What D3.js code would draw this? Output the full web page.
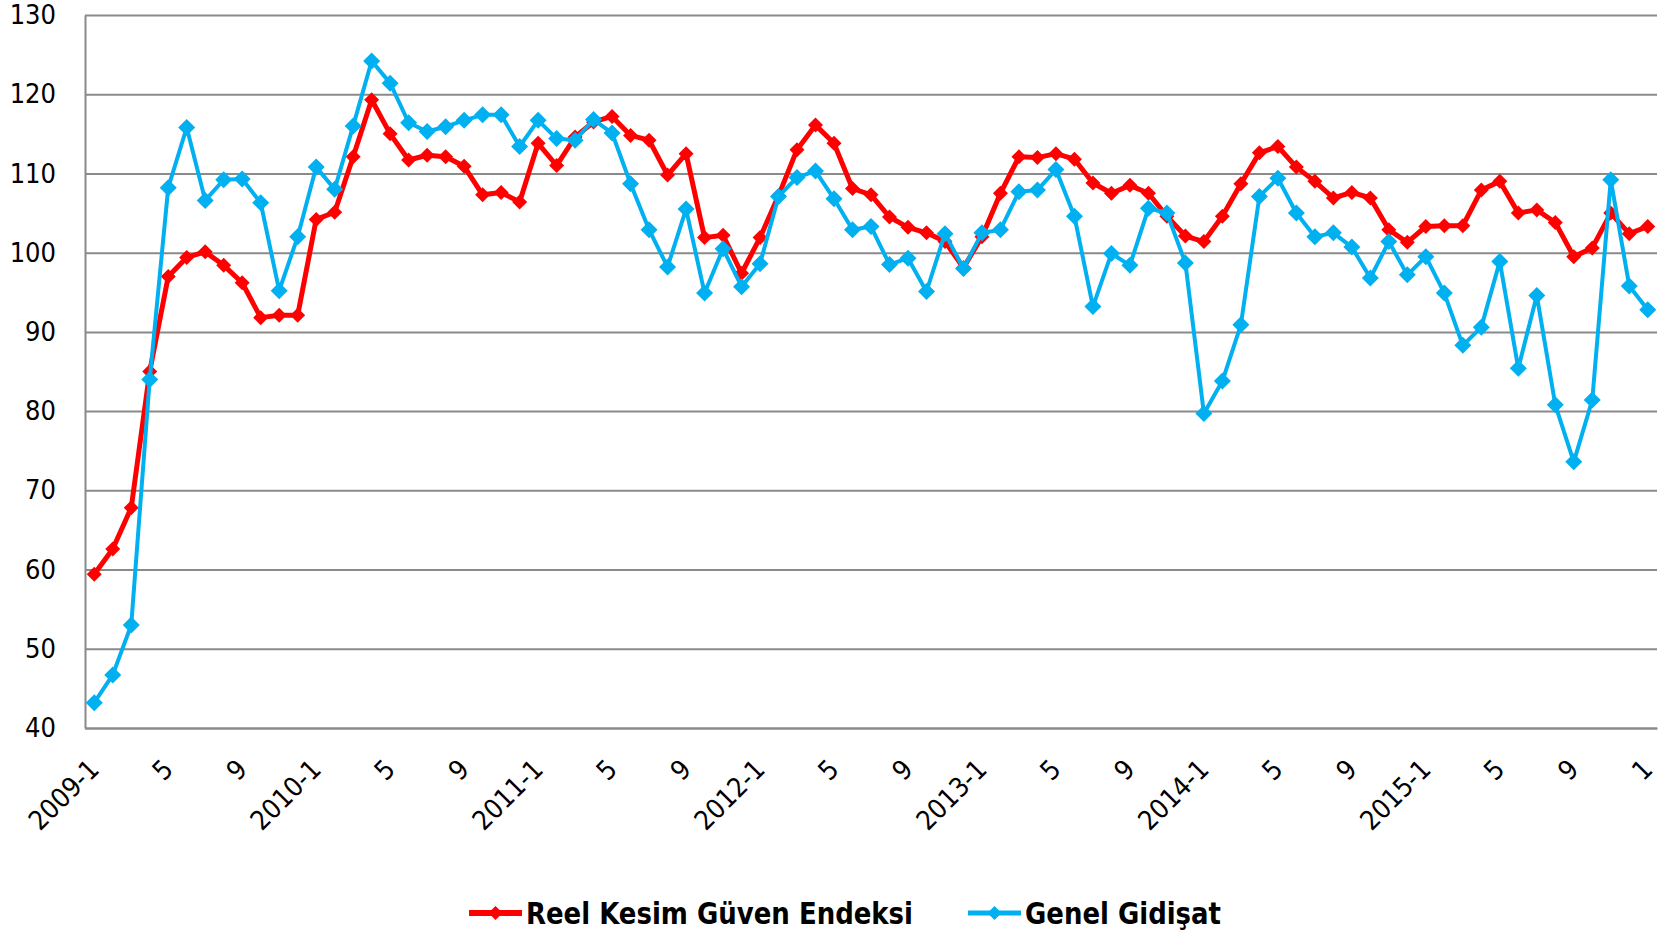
<!DOCTYPE html>
<html>
<head>
<meta charset="utf-8">
<script src="https://cdn.jsdelivr.net/npm/d3@7"></script>
<style>
  body { margin: 0; background: #fff; }
  text { font-family: 'DejaVu Sans', Verdana, sans-serif; font-stretch: condensed; }
</style>
</head>
<body>
<div id="root"></div>
<script>
// chart size and margins
let width = 1671, height = 932;
let margin = {top: 15, right: 14, bottom: 204, left: 85};

// month labels as they appear on the category axis
const categories = [
  '2009-1','2','3','4','5','6','7','8','9','10','11','12',
  '2010-1','2','3','4','5','6','7','8','9','10','11','12',
  '2011-1','2','3','4','5','6','7','8','9','10','11','12',
  '2012-1','2','3','4','5','6','7','8','9','10','11','12',
  '2013-1','2','3','4','5','6','7','8','9','10','11','12',
  '2014-1','2','3','4','5','6','7','8','9','10','11','12',
  '2015-1','2','3','4','5','6','7','8','9','10','11','12',
  '1'
];

// Reel Kesim Güven Endeksi
const reelKesim = [
  59.4, 62.6, 67.8, 85.0, 97.0, 99.4, 100.1, 98.4, 96.2, 91.8, 92.1, 92.1,
  104.2, 105.1, 112.1, 119.3, 115.0, 111.7, 112.3, 112.1, 110.9, 107.3, 107.6, 106.4,
  113.8, 111.0, 114.6, 116.5, 117.2, 114.8, 114.2, 109.8, 112.5, 101.9, 102.2, 97.4,
  101.9, 107.2, 113.0, 116.1, 113.8, 108.1, 107.3, 104.5, 103.2, 102.5, 101.4, 98.1,
  102.0, 107.5, 112.1, 112.0, 112.5, 111.8, 108.8, 107.5, 108.5, 107.5, 104.6, 102.1,
  101.4, 104.6, 108.7, 112.6, 113.4, 110.8, 109.0, 106.9, 107.6, 106.9, 102.9, 101.3,
  103.3, 103.4, 103.4, 107.9, 109.0, 105.0, 105.4, 103.8, 99.5, 100.6, 105.0, 102.4,
  103.3
];

// Genel Gidişat
const genelGidisat = [
  43.2, 46.7, 53.0, 84.0, 108.2, 115.8, 106.6, 109.2, 109.3, 106.3, 95.2, 102.0,
  110.8, 108.0, 116.0, 124.2, 121.4, 116.4, 115.3, 115.9, 116.7, 117.4, 117.4, 113.4,
  116.7, 114.4, 114.2, 116.8, 115.1, 108.7, 102.9, 98.2, 105.5, 94.9, 100.5, 95.7,
  98.6, 107.1, 109.5, 110.3, 106.8, 102.9, 103.3, 98.5, 99.3, 95.1, 102.4, 98.0,
  102.5, 102.9, 107.7, 107.9, 110.5, 104.6, 93.2, 99.9, 98.4, 105.6, 105.0, 98.7,
  79.7, 83.8, 90.9, 107.1, 109.4, 105.0, 102.0, 102.5, 100.7, 96.8, 101.4, 97.2,
  99.5, 94.9, 88.3, 90.6, 98.9, 85.4, 94.6, 80.8, 73.6, 81.4, 109.2, 95.8,
  92.8
];

const yTicks = [40, 50, 60, 70, 80, 90, 100, 110, 120, 130];
const seriesNames = ['Reel Kesim Güven Endeksi', 'Genel Gidişat'];
const seriesColors = ['#ff0000', '#00b0f0'];

var svg = d3.select('#root')
  .append('svg')
  .attr('width', width)
  .attr('height', height);

// x: one slot per month, points in the middle of each slot
var xScale = d3.scalePoint()
  .domain(d3.range(categories.length))
  .range([margin.left, width - margin.right])
  .padding(0.5);

var yScale = d3.scaleLinear()
  .domain([40, 130])
  .range([height - margin.bottom, margin.top]);

// y axis + horizontal grid lines
var yAxis = svg.append('g')
  .attr('transform', 'translate(' + [margin.left, 0] + ')')
  .call(d3.axisLeft(yScale)
    .tickValues(yTicks)
    .tickSize(-(width - margin.left - margin.right))
    .tickSizeOuter(0)
    .tickPadding(29));
yAxis.selectAll('line').attr('stroke', '#8a8a8a').attr('stroke-width', 2);
yAxis.select('.domain').attr('stroke', '#8a8a8a').attr('stroke-width', 2);
yAxis.selectAll('text')
  .attr('fill', '#000')
  .style('font-size', '27px');

// x axis labels, every 4th month, slanted
var xAxis = svg.append('g')
  .attr('transform', 'translate(' + [0, height - margin.bottom] + ')')
  .call(d3.axisBottom(xScale)
    .tickValues(d3.range(0, categories.length, 4))
    .tickFormat(i => categories[i])
    .tickSize(0));
xAxis.select('.domain').attr('stroke', '#8a8a8a').attr('stroke-width', 2);
xAxis.selectAll('text')
  .attr('fill', '#000')
  .style('font-size', '27px')
  .style('text-anchor', 'end')
  .attr('x', 0).attr('y', 0).attr('dy', 0)
  .attr('transform', 'translate(6,43) rotate(-45)');

// diamond marker path
const diamond = r => 'M0,' + (-r) + 'L' + r + ',0L0,' + r + 'L' + (-r) + ',0Z';

var line = d3.line()
  .x((d, i) => xScale(i))
  .y(d => yScale(d));

const series = [
  {name: seriesNames[0], values: reelKesim, color: seriesColors[0], width: 5, r: 7.5},
  {name: seriesNames[1], values: genelGidisat, color: seriesColors[1], width: 4, r: 8.5}
];

series.forEach(s => {
  var g = svg.append('g');
  g.append('path')
    .datum(s.values)
    .attr('fill', 'none')
    .attr('stroke', s.color)
    .attr('stroke-width', s.width)
    .attr('stroke-linejoin', 'round')
    .attr('d', line);
  g.selectAll('path.mark')
    .data(s.values)
    .enter()
    .append('path')
    .attr('class', 'mark')
    .attr('transform', (d, i) => 'translate(' + [xScale(i), yScale(d)] + ')')
    .attr('d', diamond(s.r))
    .attr('fill', s.color);
});

// legend
const legendItems = [
  {x: 469, textW: 387},
  {x: 968, textW: 196}
];
var legend = svg.append('g').attr('transform', 'translate(0,913)');
series.forEach((s, k) => {
  var item = legend.append('g').attr('transform', 'translate(' + [legendItems[k].x, 0] + ')');
  item.append('line')
    .attr('x1', 0).attr('x2', 53)
    .attr('stroke', s.color)
    .attr('stroke-width', s.width + 1);
  item.append('path')
    .attr('transform', 'translate(26.5,0)')
    .attr('d', diamond(7))
    .attr('fill', s.color);
  item.append('text')
    .attr('x', 57)
    .attr('y', 11)
    .style('font-size', '30px')
    .style('font-weight', 'bold')
    .style('font-stretch', 'normal')
    .attr('textLength', legendItems[k].textW)
    .attr('lengthAdjust', 'spacingAndGlyphs')
    .text(s.name);
});
</script>
</body>
</html>
